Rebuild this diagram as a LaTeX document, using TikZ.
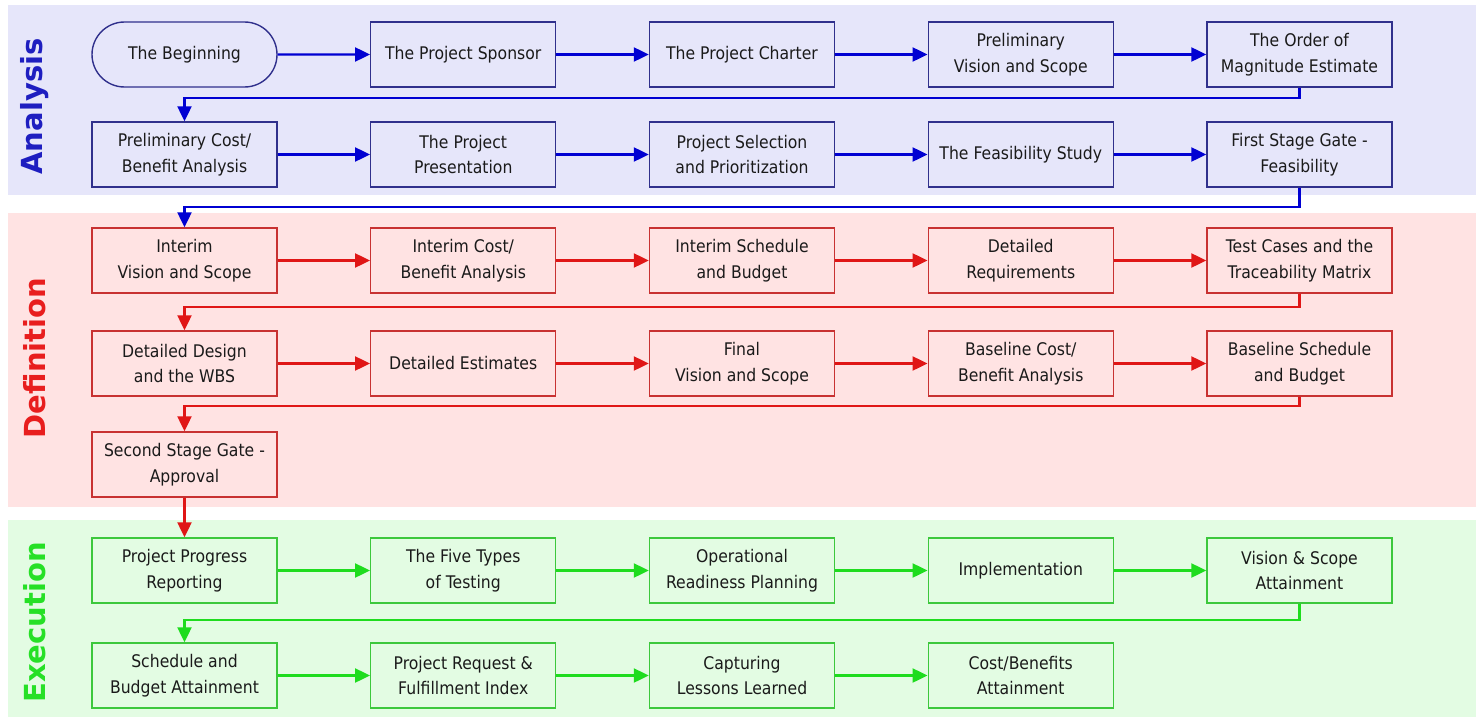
\documentclass[tikz,border=0pt]{standalone}
\usepackage{fontspec}
\setmainfont{DejaVu Sans}[FakeStretch=0.9]
\newfontfamily\labelfont{DejaVu Sans Bold}
\usetikzlibrary{arrows.meta,shapes.misc}
\definecolor{aband}{HTML}{E6E6FA}
\definecolor{aline}{HTML}{30308C}
\definecolor{aarrow}{HTML}{0000D2}
\definecolor{alabel}{HTML}{1E1EC0}
\definecolor{dband}{HTML}{FFE3E3}
\definecolor{dline}{HTML}{C83232}
\definecolor{darrow}{HTML}{E01616}
\definecolor{dlabel}{HTML}{E81E1E}
\definecolor{eband}{HTML}{E3FCE3}
\definecolor{eline}{HTML}{3CC83C}
\definecolor{earrow}{HTML}{1EDC1E}
\definecolor{elabel}{HTML}{26E026}
\definecolor{txt}{HTML}{1A1A1A}
\tikzset{
  stepbox/.style={draw, line width=1.4pt, minimum width=185pt, minimum height=65pt,
    inner sep=0pt, align=center, text=txt, font=\fontsize{17.4}{25.5}\selectfont},
  abox/.style={stepbox, draw=aline, fill=aband},
  dbox/.style={stepbox, draw=dline, fill=dband},
  ebox/.style={stepbox, draw=eline, fill=eband},
  conn/.style={line width=2.2pt, -{Triangle[length=15pt,width=14pt]}},
  aconn/.style={conn, draw=aarrow},
  dconn/.style={conn, draw=darrow},
  econn/.style={conn, draw=earrow},
  bandlabel/.style={rotate=90, font=\labelfont\fontsize{29}{30}\selectfont, inner sep=0pt},
}
\begin{document}
\begin{tikzpicture}[x=1pt,y=-1pt]
\useasboundingbox (0,0) rectangle (1480,717);
\fill[white] (0,0) rectangle (1480,717);
% bands
\fill[aband] (8,5) rectangle (1476,195);
\fill[dband] (8,213) rectangle (1476,507);
\fill[eband] (8,520) rectangle (1476,717);
\node[bandlabel, text=alabel] (la) at (35,106.5) {Analysis};
\node[bandlabel, text=dlabel] (ld) at (35,358) {Definition};
\node[bandlabel, text=elabel] (le) at (35,622.5) {Execution};
% Analysis
\node[abox, rounded rectangle] (a1) at (184.5,54.5) {The Beginning};
\node[abox] (a2) at (463.25,54.5) {The Project Sponsor};
\node[abox] (a3) at (742,54.5) {The Project Charter};
\node[abox] (a4) at (1020.75,54.5) {Preliminary\\Vision and Scope};
\node[abox] (a5) at (1299.5,54.5) {The Order of\\Magnitude Estimate};
\node[abox] (a6) at (184.5,154.5) {Preliminary Cost/\\Benefit Analysis};
\node[abox] (a7) at (463.25,154.5) {The Project\\Presentation};
\node[abox] (a8) at (742,154.5) {Project Selection\\and Prioritization};
\node[abox] (a9) at (1020.75,154.5) {The Feasibility Study};
\node[abox] (a10) at (1299.5,154.5) {First Stage Gate -\\Feasibility};
% Definition
\node[dbox] (d1) at (184.5,260.5) {Interim\\Vision and Scope};
\node[dbox] (d2) at (463.25,260.5) {Interim Cost/\\Benefit Analysis};
\node[dbox] (d3) at (742,260.5) {Interim Schedule\\and Budget};
\node[dbox] (d4) at (1020.75,260.5) {Detailed\\Requirements};
\node[dbox] (d5) at (1299.5,260.5) {Test Cases and the\\Traceability Matrix};
\node[dbox] (d6) at (184.5,363.5) {Detailed Design\\and the WBS};
\node[dbox] (d7) at (463.25,363.5) {Detailed Estimates};
\node[dbox] (d8) at (742,363.5) {Final\\Vision and Scope};
\node[dbox] (d9) at (1020.75,363.5) {Baseline Cost/\\Benefit Analysis};
\node[dbox] (d10) at (1299.5,363.5) {Baseline Schedule\\and Budget};
\node[dbox] (d11) at (184.5,464.5) {Second Stage Gate -\\Approval};
% Execution
\node[ebox] (e1) at (184.5,570.5) {Project Progress\\Reporting};
\node[ebox] (e2) at (463.25,570.5) {The Five Types\\of Testing};
\node[ebox] (e3) at (742,570.5) {Operational\\Readiness Planning};
\node[ebox] (e4) at (1020.75,570.5) {Implementation};
\node[ebox] (e5) at (1299.5,570.5) {Vision \& Scope\\Attainment};
\node[ebox] (e6) at (184.5,675.5) {Schedule and\\Budget Attainment};
\node[ebox] (e7) at (463.25,675.5) {Project Request \&\\Fulfillment Index};
\node[ebox] (e8) at (742,675.5) {Capturing\\Lessons Learned};
\node[ebox] (e9) at (1020.75,675.5) {Cost/Benefits\\Attainment};
% connectors Analysis
\foreach \s/\t in {a1/a2,a2/a3,a3/a4,a4/a5,a6/a7,a7/a8,a8/a9,a9/a10}
  \draw[aconn] (\s) -- (\t);
\draw[aconn] (a5.south) |- (1299.5,98) -| (a6.north);
\draw[aconn] (a10.south) |- (1299.5,207) -| (d1.north);
% connectors Definition
\foreach \s/\t in {d1/d2,d2/d3,d3/d4,d4/d5,d6/d7,d7/d8,d8/d9,d9/d10}
  \draw[dconn] (\s) -- (\t);
\draw[dconn] (d5.south) |- (1299.5,307) -| (d6.north);
\draw[dconn] (d10.south) |- (1299.5,406) -| (d11.north);
\draw[dconn] (d11.south) -- (e1.north);
% connectors Execution
\foreach \s/\t in {e1/e2,e2/e3,e3/e4,e4/e5,e6/e7,e7/e8,e8/e9}
  \draw[econn] (\s) -- (\t);
\draw[econn] (e5.south) |- (1299.5,620) -| (e6.north);
\end{tikzpicture}
\end{document}
